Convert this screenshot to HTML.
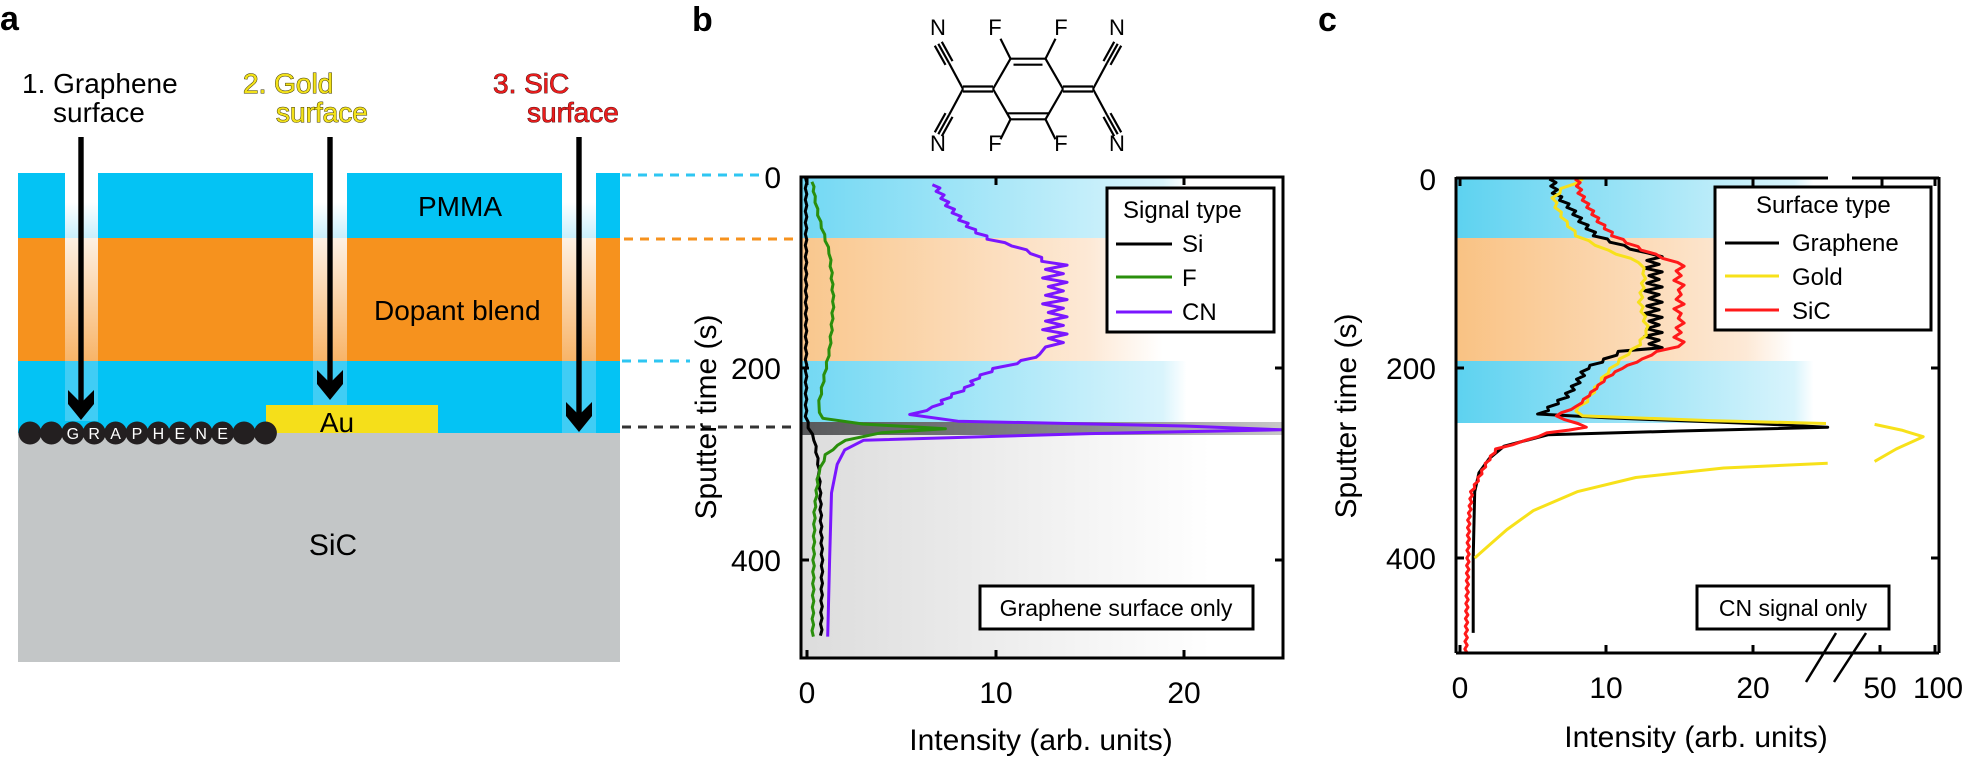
<!DOCTYPE html>
<html><head><meta charset="utf-8">
<style>
html,body{margin:0;padding:0;background:#fff;}
svg{display:block;font-family:"Liberation Sans",Arial,sans-serif;}
</style></head>
<body>
<svg id="s" width="1964" height="759" viewBox="0 0 1964 759" xmlns="http://www.w3.org/2000/svg">
<defs>
 <linearGradient id="gapTop" x1="0" y1="0" x2="0" y2="1"><stop offset="0" stop-color="#fff"/><stop offset="0.45" stop-color="#fff"/><stop offset="1" stop-color="#c9effc"/></linearGradient>
 <linearGradient id="gapMid" x1="0" y1="0" x2="0" y2="1"><stop offset="0" stop-color="#fdf1e4"/><stop offset="1" stop-color="#f8b468"/></linearGradient>
 <linearGradient id="bBlue" x1="0" y1="0" x2="1" y2="0"><stop offset="0" stop-color="#72d8f3"/><stop offset="0.75" stop-color="#d9f4fc"/><stop offset="0.8" stop-color="#ffffff"/></linearGradient>
 <linearGradient id="bOr" x1="0" y1="0" x2="1" y2="0"><stop offset="0" stop-color="#f9c78d"/><stop offset="0.6" stop-color="#fde9d6"/><stop offset="0.75" stop-color="#ffffff"/></linearGradient>
 <linearGradient id="bDark" x1="0" y1="0" x2="1" y2="0"><stop offset="0" stop-color="#58595b"/><stop offset="0.6" stop-color="#8a8b8d"/><stop offset="1" stop-color="#c8c8c8"/></linearGradient>
 <linearGradient id="bGray" x1="0" y1="0" x2="1" y2="0"><stop offset="0" stop-color="#dcdcdc"/><stop offset="0.85" stop-color="#ffffff"/></linearGradient>
 <linearGradient id="cBlue" x1="0" y1="0" x2="1" y2="0"><stop offset="0" stop-color="#5dd2f0"/><stop offset="0.7" stop-color="#d8f4fc"/><stop offset="0.74" stop-color="#ffffff"/></linearGradient>
 <linearGradient id="cOr" x1="0" y1="0" x2="1" y2="0"><stop offset="0" stop-color="#f9c283"/><stop offset="0.6" stop-color="#fde9d6"/><stop offset="0.7" stop-color="#ffffff"/></linearGradient>
</defs>

<!-- Panel a -->
<text x="0" y="30" font-size="34" font-weight="bold">a</text>
<rect x="18" y="173" width="602" height="65" fill="#04c3f4"/>
<rect x="18" y="238" width="602" height="123" fill="#f6921e"/>
<rect x="18" y="361" width="602" height="72" fill="#04c3f4"/>
<rect x="18" y="433" width="602" height="229" fill="#c3c6c7"/>
<g>
 <rect x="65" y="173" width="33" height="65" fill="url(#gapTop)"/>
 <rect x="65" y="238" width="33" height="123" fill="url(#gapMid)"/>
 <rect x="65" y="361" width="33" height="60" fill="#40cdf5"/>
 <rect x="313" y="173" width="34" height="65" fill="url(#gapTop)"/>
 <rect x="313" y="238" width="34" height="123" fill="url(#gapMid)"/>
 <rect x="313" y="361" width="34" height="44" fill="#40cdf5"/>
 <rect x="562" y="173" width="34" height="65" fill="url(#gapTop)"/>
 <rect x="562" y="238" width="34" height="123" fill="url(#gapMid)"/>
 <rect x="562" y="361" width="34" height="72" fill="#40cdf5"/>
</g>
<rect x="266" y="405" width="172" height="28" fill="#f5df1a"/>
<text x="337" y="432" font-size="28" text-anchor="middle">Au</text>
<g id="balls" fill="#231f20"></g>
<text x="460" y="216" font-size="28" text-anchor="middle">PMMA</text>
<text x="374" y="320" font-size="28">Dopant blend</text>
<text x="333" y="555" font-size="30" text-anchor="middle">SiC</text>

<text x="22" y="93" font-size="28">1. Graphene</text>
<text x="53" y="122" font-size="28">surface</text>
<g fill="#f3e21a" stroke="#3a3300" stroke-width="1" paint-order="stroke">
 <text x="243" y="93" font-size="28">2. Gold</text>
 <text x="276" y="122" font-size="28">surface</text>
</g>
<g fill="#ea1d1d" stroke="#3a0000" stroke-width="0.8" paint-order="stroke">
 <text x="493" y="93" font-size="28">3. SiC</text>
 <text x="527" y="122" font-size="28">surface</text>
</g>
<g id="arrows" fill="#000"></g>

<!-- dashed connectors -->
<g stroke-width="3" stroke-dasharray="9,7">
 <line x1="622" y1="175" x2="768" y2="175" stroke="#2ec6f2"/>
 <line x1="624" y1="239" x2="798" y2="239" stroke="#f6921e"/>
 <line x1="622" y1="361" x2="690" y2="361" stroke="#2ec6f2"/>
 <line x1="622" y1="427" x2="798" y2="427" stroke="#333"/>
</g>

<!-- Panel b -->
<text x="692" y="31" font-size="34" font-weight="bold">b</text>
<g id="mol" stroke="#000" stroke-width="2.2" fill="none"></g>
<g font-size="22" text-anchor="middle">
 <text x="938" y="35">N</text><text x="995" y="35">F</text><text x="1061" y="35">F</text><text x="1117" y="35">N</text>
 <text x="938" y="151">N</text><text x="995" y="151">F</text><text x="1061" y="151">F</text><text x="1117" y="151">N</text>
</g>

<rect x="801" y="177" width="482" height="61" fill="url(#bBlue)"/>
<rect x="801" y="238" width="482" height="123" fill="url(#bOr)"/>
<rect x="801" y="361" width="482" height="61" fill="url(#bBlue)"/>
<rect x="801" y="422" width="482" height="13" fill="url(#bDark)"/>
<rect x="801" y="435" width="482" height="223" fill="url(#bGray)"/>
<g fill="none" stroke-width="3" stroke-linejoin="round">
 <path id="bSi" stroke="#000"/>
 <path id="bF" stroke="#2a8f0c"/>
 <path id="bCN" stroke="#7a16ff"/>
</g>
<rect x="801" y="177" width="482" height="481" fill="none" stroke="#000" stroke-width="3"/>
<g stroke="#000" stroke-width="3">
 <line x1="807" y1="658" x2="807" y2="650"/><line x1="996" y1="658" x2="996" y2="650"/><line x1="1184" y1="658" x2="1184" y2="650"/>
 <line x1="807" y1="177" x2="807" y2="185"/><line x1="996" y1="177" x2="996" y2="185"/><line x1="1184" y1="177" x2="1184" y2="185"/>
 <line x1="801" y1="368" x2="809" y2="368"/><line x1="801" y1="560" x2="809" y2="560"/>
 <line x1="1283" y1="368" x2="1275" y2="368"/><line x1="1283" y1="560" x2="1275" y2="560"/>
</g>
<g font-size="30">
 <text x="781" y="188" text-anchor="end">0</text>
 <text x="781" y="379" text-anchor="end">200</text>
 <text x="781" y="571" text-anchor="end">400</text>
 <text x="807" y="703" text-anchor="middle">0</text>
 <text x="996" y="703" text-anchor="middle">10</text>
 <text x="1184" y="703" text-anchor="middle">20</text>
 <text x="1041" y="750" text-anchor="middle">Intensity (arb. units)</text>
 <text transform="translate(716,417) rotate(-90)" text-anchor="middle">Sputter time (s)</text>
</g>
<rect x="1107" y="188" width="167" height="144" fill="#fff" stroke="#000" stroke-width="3"/>
<g font-size="24">
 <text x="1123" y="218">Signal type</text>
 <text x="1182" y="252">Si</text><text x="1182" y="286">F</text><text x="1182" y="320">CN</text>
</g>
<line x1="1116" y1="244" x2="1172" y2="244" stroke="#000" stroke-width="3"/>
<line x1="1116" y1="277" x2="1172" y2="277" stroke="#2a8f0c" stroke-width="3"/>
<line x1="1116" y1="312" x2="1172" y2="312" stroke="#7a16ff" stroke-width="3"/>
<rect x="980" y="586" width="273" height="43" fill="#fff" stroke="#000" stroke-width="3"/>
<text x="1116" y="616" font-size="23" text-anchor="middle">Graphene surface only</text>

<!-- Panel c -->
<text x="1318" y="31" font-size="34" font-weight="bold">c</text>
<rect x="1456" y="179" width="483" height="59" fill="url(#cBlue)"/>
<rect x="1456" y="238" width="483" height="123" fill="url(#cOr)"/>
<rect x="1456" y="361" width="483" height="62" fill="url(#cBlue)"/>
<g fill="none" stroke-width="3" stroke-linejoin="round">
 <path id="cG" stroke="#000"/>
 <path id="cY" stroke="#f7e11a"/>
 <path id="cR" stroke="#ff1a1a"/>
</g>
<g stroke="#000" stroke-width="3" fill="none">
 <line x1="1456" y1="177" x2="1456" y2="653"/>
 <line x1="1939" y1="177" x2="1939" y2="653"/>
 <line x1="1456" y1="653" x2="1939" y2="653"/>
 <line x1="1456" y1="178" x2="1828" y2="178"/>
 <line x1="1852" y1="178" x2="1939" y2="178"/>
 <line x1="1460" y1="653" x2="1460" y2="645"/><line x1="1606" y1="653" x2="1606" y2="645"/><line x1="1753" y1="653" x2="1753" y2="645"/><line x1="1880" y1="653" x2="1880" y2="645"/><line x1="1935" y1="653" x2="1935" y2="645"/>
 <line x1="1460" y1="178" x2="1460" y2="186"/><line x1="1606" y1="178" x2="1606" y2="186"/><line x1="1753" y1="178" x2="1753" y2="186"/><line x1="1882" y1="178" x2="1882" y2="186"/><line x1="1935" y1="178" x2="1935" y2="186"/>
 <line x1="1456" y1="368" x2="1464" y2="368"/><line x1="1456" y1="558" x2="1464" y2="558"/>
 <line x1="1939" y1="368" x2="1931" y2="368"/><line x1="1939" y1="558" x2="1931" y2="558"/>
 <line x1="1806" y1="682" x2="1836" y2="633" stroke-width="2.5"/>
 <line x1="1834" y1="682" x2="1866" y2="633" stroke-width="2.5"/>
</g>
<g font-size="30">
 <text x="1436" y="190" text-anchor="end">0</text>
 <text x="1436" y="379" text-anchor="end">200</text>
 <text x="1436" y="569" text-anchor="end">400</text>
 <text x="1460" y="698" text-anchor="middle">0</text>
 <text x="1606" y="698" text-anchor="middle">10</text>
 <text x="1753" y="698" text-anchor="middle">20</text>
 <text x="1880" y="698" text-anchor="middle">50</text>
 <text x="1938" y="698" text-anchor="middle">100</text>
 <text x="1696" y="747" text-anchor="middle">Intensity (arb. units)</text>
 <text transform="translate(1356,416) rotate(-90)" text-anchor="middle">Sputter time (s)</text>
</g>
<rect x="1715" y="187" width="216" height="143" fill="#fff" stroke="#000" stroke-width="3"/>
<g font-size="24">
 <text x="1756" y="213">Surface type</text>
 <text x="1792" y="251">Graphene</text><text x="1792" y="285">Gold</text><text x="1792" y="319">SiC</text>
</g>
<line x1="1725" y1="243" x2="1779" y2="243" stroke="#000" stroke-width="3"/>
<line x1="1725" y1="276" x2="1779" y2="276" stroke="#f7e11a" stroke-width="3"/>
<line x1="1725" y1="310" x2="1779" y2="310" stroke="#ff1a1a" stroke-width="3"/>
<rect x="1697" y="586" width="192" height="43" fill="#fff" stroke="#000" stroke-width="3"/>
<text x="1793" y="616" font-size="23" text-anchor="middle">CN signal only</text>
</svg>
<script>
(function(){
var NS="http://www.w3.org/2000/svg";
function el(p,t,a){var e=document.createElementNS(NS,t);for(var k in a)e.setAttribute(k,a[k]);p.appendChild(e);return e;}
var bg=document.getElementById('balls');var L="  GRAPHENE  ";
for(var i=0;i<12;i++){var cx=30+i*21.4;el(bg,'circle',{cx:cx,cy:433,r:11.5});
 if(L[i]!=' '){var t=el(bg,'text',{x:cx,y:439,'font-size':16,'text-anchor':'middle',fill:'#fff'});t.textContent=L[i];}}
var ag=document.getElementById('arrows');
[[81,137,420],[330,137,400],[579,137,432]].forEach(function(a){var x=a[0],t=a[1],b=a[2];
 el(ag,'rect',{x:x-2.7,y:t,width:5.4,height:b-t-10});
 el(ag,'polygon',{points:[x-13,b-30,x,b-17,x+13,b-30,x+13,b-16,x,b,x-13,b-16].join(' ')});});
// molecule
var m=document.getElementById('mol');var cx=1028,cy=89,r=35,h=r*0.866;
function ln(x1,y1,x2,y2){el(m,'line',{x1:x1.toFixed(1),y1:y1.toFixed(1),x2:x2.toFixed(1),y2:y2.toFixed(1)});}
var V=[[cx-r,cy],[cx-r/2,cy-h],[cx+r/2,cy-h],[cx+r,cy],[cx+r/2,cy+h],[cx-r/2,cy+h]];
for(var i=0;i<6;i++){var a=V[i],b=V[(i+1)%6];ln(a[0],a[1],b[0],b[1]);}
ln(V[1][0]+3,V[1][1]+6,V[2][0]-3,V[2][1]+6);ln(V[4][0]+3,V[4][1]-6,V[5][0]-3,V[5][1]-6);
[-1,1].forEach(function(s){var vx=cx+s*r,ex=cx+s*(r+30);ln(vx,cy-2.5,ex,cy-2.5);ln(vx,cy+2.5,ex,cy+2.5);
 [-1,1].forEach(function(v){var px=ex+s*14,py=cy+v*26;ln(ex,cy,px,py);
  var dx=s*10,dy=v*18,len=Math.sqrt(dx*dx+dy*dy);dx/=len;dy/=len;var nx=-dy,ny=dx;
  for(var k=-1;k<=1;k++){ln(px+nx*k*4,py+ny*k*4,px+dx*22+nx*k*4,py+dy*22+ny*k*4);}
  var fx=cx+s*r/2;ln(fx,cy+v*h,fx+s*10,cy+v*(h+20));});});
function path(id,data,X,Y){var d='';data.forEach(function(p,i){if(p===null){d+=' ';return;}d+=(i==0||data[i-1]===null?'M':'L')+X(p[1]).toFixed(1)+','+Y(p[0]).toFixed(1);});document.getElementById(id).setAttribute('d',d);}
function zig(s0,s1,step,a,b){var r=[];var k=0;for(var s=s0;s<=s1;s+=step){r.push([s,k%2?a+(k%3)*0.15:b-(k%4)*0.1]);k++;}return r;}
function jit(arr,amp){return arr.map(function(p,i){return [p[0],p[1]+(i%2?amp:-amp)];});}
function dense(arr,step){var r=[];for(var i=0;i<arr.length-1;i++){var a=arr[i],b=arr[i+1];var n=Math.max(1,Math.round((b[0]-a[0])/step));for(var j=0;j<n;j++){r.push([a[0]+(b[0]-a[0])*j/n,a[1]+(b[1]-a[1])*j/n]);}}r.push(arr[arr.length-1]);return r;}
var Xb=function(u){return 807+18.85*u;},Yb=function(s){return 177+0.9575*s;};
path('bSi',jit(dense([[0,-0.05],[250,-0.05],[262,0.1],[275,0.4],[300,0.6],[330,0.7],[400,0.8],[479,0.75]],6),0.04),Xb,Yb);
path('bF',jit(dense([[5,0.3],[20,0.4],[40,0.6],[60,0.9],[80,1.2],[100,1.3],[130,1.4],[160,1.3],[180,1.2],[200,1.0],[220,0.8],[240,0.6],[252,0.8],[258,3],[263,7.3],[267,4],[275,2],[290,1],[310,0.6],[350,0.4],[400,0.35],[480,0.3]],6),0.04),Xb,Yb);
var cn=jit(dense([[8,6.8],[15,7],[30,7.5],[45,8.2],[55,8.8],[65,9.7],[72,11],[80,12],[88,12.6]],4),0.15)
 .concat(zig(92,180,4.5,12.5,13.8))
 .concat(jit(dense([[185,12.5],[195,11],[200,10],[210,9],[220,8.5],[230,7.5],[240,6.8],[248,5.6]],4),0.15))
 .concat([[255,8],[260,20],[264,25.2],[268,15],[275,3],[285,2],[300,1.6],[330,1.3],[400,1.2],[480,1.1]]);
path('bCN',cn,Xb,Yb);
var Yc=function(s){return 179+0.9475*s;};
var Xc=function(u){if(u<=25.2)return 1460+14.65*u;return 1880+1.08*(u-50);};
var g=jit(dense([[0,6.3],[15,6.5],[30,7.5],[45,8.3],[60,9.3],[70,11],[78,12.6]],4),0.2)
 .concat(zig(82,178,4,12.6,13.8))
 .concat(jit(dense([[182,11],[190,10],[200,8.6],[215,8],[230,7.2],[248,5.5]],4),0.2))
 .concat([[252,10],[258,20],[262,25.1],[266,15],[270,6],[276,4.5],[282,3],[295,2],[310,1.3],[330,1.0],[400,0.9],[479,0.9]]);
path('cG',g,Xc,Yc);
var rr=jit(dense([[0,8],[15,8.2],[30,8.8],[45,9.5],[60,10.5],[75,12.5],[88,14.7]],4),0.15)
 .concat(zig(92,178,5,14.6,15.3))
 .concat(jit(dense([[182,13.5],[190,12.5],[200,11],[210,10],[225,9],[240,8],[250,6.5],[262,8.7],[268,6],[276,4.5],[285,2.5],[300,1.8],[315,1.3],[330,0.8],[360,0.6],[500,0.4]],4),0.08));
path('cR',rr,Xc,Yc);
var y=jit(dense([[0,8.5],[10,7],[20,6.4],[30,6.6],[45,7.2],[60,8],[75,10],[88,12.3],[100,12.6],[130,12.3],[160,12.8],[175,12.2],[190,11],[205,10],[220,9.3],[235,8.6],[245,7.8],[250,8.5],[255,17],[258,25.1]],5),0.12)
 .concat([null,[259,45],[265,70],[272,90],[285,65],[298,45],null,[300,25.1],[305,18],[315,12],[330,8],[350,5],[370,3.2],[385,2.1],[400,1.0]]);
path('cY',y,Xc,Yc);
})();
</script>
</body></html>
